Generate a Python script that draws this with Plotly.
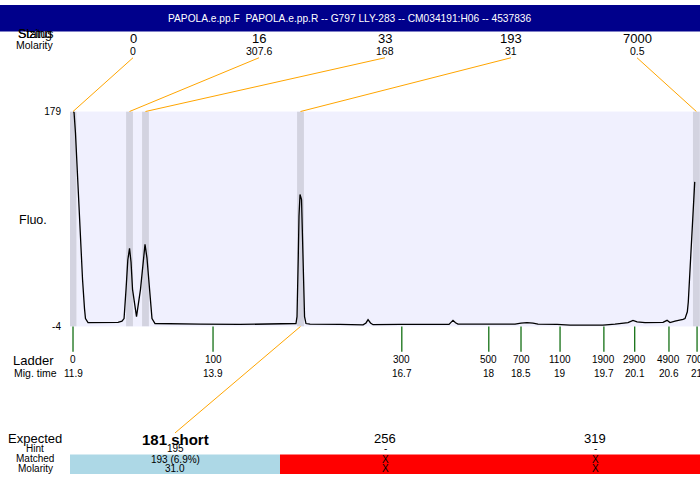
import plotly.graph_objects as go

W, H = 700, 480
FONT = "Liberation Sans, Arial, sans-serif"

title_text = "PAPOLA.e.pp.F  PAPOLA.e.pp.R -- G797 LLY-283 -- CM034191:H06 -- 4537836"

# electropherogram trace (migration time, fluorescence)
mig_time = [
    11.905, 11.915, 11.936, 11.954, 11.977, 12.002, 12.039, 12.068, 12.082, 12.119,
    12.148, 12.367, 12.557, 12.615, 12.645, 12.674, 12.700, 12.725, 12.747, 12.769, 12.827,
    12.885, 12.922, 12.951, 12.980, 13.017, 13.053, 13.097,
    13.170, 13.754, 14.338, 14.776, 15.112, 15.155,
    15.170, 15.177, 15.189, 15.199, 15.214, 15.236, 15.250, 15.265, 15.280, 15.301,
    15.360, 15.798, 16.134, 16.177, 16.207, 16.243, 16.280, 16.674, 17.112, 17.389, 17.418, 17.447, 17.484, 17.520,
    17.988, 18.353, 18.440, 18.527, 18.615, 18.688, 18.966, 19.155, 19.447, 19.637, 19.812, 20.002, 20.075, 20.134,
    20.250, 20.396, 20.513, 20.572, 20.615, 20.688, 20.761, 20.805,
    20.834, 20.868, 20.882, 20.897, 20.918, 20.932, 20.956, 20.976,
]
fluo = [
    179.0, 178.2, 160.7, 138.2, 102.5, 69.2, 35.9, 11.0, 2.7, -0.7,
    -0.7, -0.5, -0.5, 0.5, 2.7, 27.6, 52.6, 62.5, 50.9, 27.6, 4.3,
    27.6, 52.6, 65.9, 54.2, 27.6, 2.7, -1.5,
    -1.5, -2.0, -2.3, -2.0, -1.8, -1.5,
    4.3, 19.3, 56.7, 90.0, 108.3, 104.1, 73.4, 35.9, 4.3, -1.5,
    -2.0, -2.3, -2.6, -1.0, 1.8, -1.0, -2.5, -2.3, -2.3, -2.3, -0.5, 1.2, -0.8, -2.0,
    -2.0, -2.0, -1.1, -0.7, -1.1, -2.0, -2.3, -2.9, -2.9, -2.9, -2.0, -0.7, 1.2, -0.1,
    -0.7, -0.5, -0.5, 1.2, -0.7, 0.5, 1.2, 2.0,
    2.7, 8.5, 16.8, 33.3, 52.6, 71.7, 98.3, 119.1,
]

# called peaks
peak_mig = [11.90, 12.725, 12.958, 15.221, 21.0]
peak_size = ["0", "16", "33", "193", "7000"]
peak_molarity = ["0", "307.6", "168", "31", "0.5"]

# ladder
ladder_mig = [11.9, 13.944, 16.70, 17.97, 18.44, 19.01, 19.65, 20.10, 20.60, 21.01]
ladder_size = ["0", "100", "300", "500", "700", "1100", "1900", "2900", "4900", "7000"]
ladder_time_label = ["11.9", "13.9", "16.7", "18", "18.5", "19", "19.7", "20.1", "20.6", "21"]

# expected fragments
expected_size = ["181 short", "256", "319"]
expected_hint = ["195", "-", "-"]
expected_matched = ["193 (6.9%)", "X", "X"]
expected_molarity = ["31.0", "X", "X"]
expected_found = [True, False, False]
matched_peak = [3, None, None]

x_range = [11.856, 21.053]
y_range = [-4, 179]


def py(y):
    return 1 - y / H


def px(x):
    return x / W


def dx(frac):
    return x_range[0] + frac * (x_range[1] - x_range[0])


PLOT_TOP, PLOT_BOT = 109, 329
ORANGE = "#FFA500"
BAND = "rgb(211,211,224)"

fig = go.Figure()
fig.add_trace(go.Scatter(x=mig_time, y=fluo, mode="lines",
                         line=dict(color="black", width=1.3), hoverinfo="skip",
                         showlegend=False))

shapes = []
annotations = []


def text(x, y, s, size, xref="paper", color="black", bold=False, xanchor="center"):
    annotations.append(dict(
        x=x, y=y, xref=xref, yref="paper", text=("<b>%s</b>" % s) if bold else s,
        showarrow=False, xanchor=xanchor, yanchor="middle",
        font=dict(family=FONT, size=size, color=color)))


# header texts under the title bar (drawn first)
text(px(35), py(29.5), "Sizing", 12.5)
text(px(35), py(29.5), "Status", 12.5)

# title bar
shapes.append(dict(type="rect", xref="paper", yref="paper", x0=0, x1=1, y0=py(27), y1=1,
                   fillcolor="#00008B", line=dict(width=0), layer="above"))
text(0.5, py(13.5), title_text, 10.2, color="white")

# peak bands
for t in peak_mig:
    shapes.append(dict(type="rect", xref="x", yref="y", x0=t - 0.05, x1=t + 0.05,
                       y0=y_range[0], y1=y_range[1], fillcolor=BAND,
                       line=dict(width=0), layer="below"))

# header rows
text(px(35), py(41), "Molarity", 10.5)
n = len(peak_size)
for i in range(n):
    tl = dx((i + 0.5) / n)
    text(tl, py(34), peak_size[i], 13, xref="x")
    text(tl, py(47), peak_molarity[i], 10.5, xref="x")
    shapes.append(dict(type="line", xref="x", yref="paper", x0=tl, y0=py(54),
                       x1=peak_mig[i], y1=py(PLOT_TOP), line=dict(color=ORANGE, width=1)))

# y label
text(px(33), py(220), "Fluo.", 12.5)

# ladder
text(px(33), py(363.5), "Ladder", 13)
text(px(35), py(377), "Mig. time", 10.5)
for t, s, m in zip(ladder_mig, ladder_size, ladder_time_label):
    shapes.append(dict(type="line", xref="x", yref="paper", x0=t, x1=t,
                       y0=py(PLOT_BOT), y1=py(355), line=dict(color="#006400", width=1.2)))
    text(t, py(363), s, 10, xref="x")
    text(t, py(377), m, 10, xref="x")

# expected block
text(px(35), py(443.5), "Expected", 13)
text(px(35), py(454), "Hint", 10)
text(px(35), py(464.5), "Matched", 10)
text(px(35), py(474.5), "Molarity", 10)
m = len(expected_size)
for i in range(m):
    x0, x1 = dx(i / m), dx((i + 1) / m)
    xc = dx((i + 0.5) / m)
    shapes.append(dict(type="rect", xref="x", yref="paper", x0=x0, x1=x1,
                       y0=py(480), y1=py(460),
                       fillcolor="#ADD8E6" if expected_found[i] else "#FF0000",
                       line=dict(width=0), layer="below"))
    if expected_found[i]:
        text(xc, py(444.5), expected_size[i], 15, xref="x", bold=True)
    else:
        text(xc, py(444), expected_size[i], 13, xref="x")
    text(xc, py(454), expected_hint[i], 10, xref="x")
    text(xc, py(465), expected_matched[i], 10, xref="x")
    text(xc, py(474.5), expected_molarity[i], 10, xref="x")
    if matched_peak[i] is not None:
        shapes.append(dict(type="line", xref="x", yref="paper",
                           x0=peak_mig[matched_peak[i]], y0=py(PLOT_BOT),
                           x1=xc, y1=py(438), line=dict(color=ORANGE, width=1)))

fig.update_layout(
    width=W, height=H,
    margin=dict(l=0, r=0, t=0, b=0),
    paper_bgcolor="white",
    plot_bgcolor="rgb(240,240,254)",
    shapes=shapes,
    annotations=annotations,
    xaxis=dict(range=x_range, domain=[0.1, 1.0], showticklabels=False, showgrid=False,
               zeroline=False, showline=False, ticks=""),
    yaxis=dict(range=y_range, domain=[1 - PLOT_BOT / H, 1 - PLOT_TOP / H],
               tickvals=y_range, ticktext=[str(v) for v in y_range],
               ticks="outside", ticklen=6, tickcolor="rgba(0,0,0,0)",
               tickfont=dict(family=FONT, size=10, color="black"),
               showgrid=False, zeroline=False, showline=False),
    showlegend=False,
)

fig.write_html(
    "out.html",
    config={"displayModeBar": False},
    post_script="document.body.style.margin='0px';document.body.style.overflow='hidden';",
)
